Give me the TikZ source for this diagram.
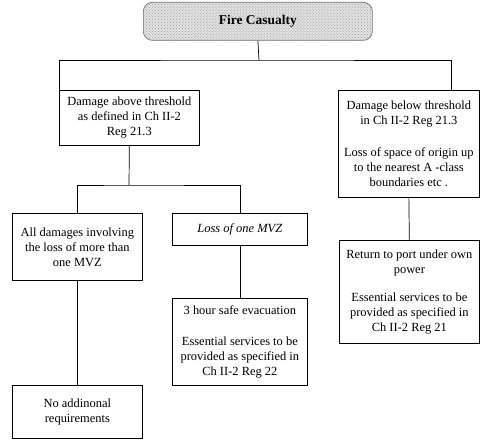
\documentclass[tikz,border=0pt]{standalone}
\usepackage{fontspec}
\setmainfont{Liberation Serif}
\usetikzlibrary{patterns}
\begin{document}
\begin{tikzpicture}[x=1bp, y=-1bp,
  box/.style={draw=black, line width=0.7bp, align=center, inner sep=0pt,
              anchor=north west, font=\fontsize{12.5}{15}\selectfont},
  topbox/.style={box, rounded corners=9bp, draw=black!55,
                 preaction={fill=gray!22}, pattern=crosshatch dots, pattern color=gray!80,
                 font=\fontsize{13.5}{16}\selectfont\bfseries},
  link/.style={draw=black, line width=0.7bp}]
\useasboundingbox (0,0) rectangle (489,447);

% root
\node[topbox, minimum width=229bp, minimum height=38bp] (fire) at (143,2) {Fire Casualty};

% first level
\node[box, minimum width=140bp, minimum height=55bp] (l1) at (59,90)
  {Damage above threshold\\as defined in Ch II-2\\Reg 21.3};
\node[box, minimum width=141bp, minimum height=107bp] (r1) at (338,90)
  {Damage below threshold\\in Ch II-2 Reg 21.3\\[17bp]Loss of space of origin up\\to the nearest A -class\\boundaries etc .};

% second level
\node[box, minimum width=130bp, minimum height=67bp] (l2a) at (12,213)
  {All damages involving\\the loss of more than\\one MVZ};
\node[box, minimum width=135bp, minimum height=32bp] (l2b) at (172,213)
  {\itshape Loss of one MVZ};
\node[box, minimum width=140bp, minimum height=103bp] (r2) at (339,240)
  {Return to port under own\\power\\[13bp]Essential services to be\\provided as specified in\\Ch II-2 Reg 21};

% third level
\node[box, minimum width=130bp, minimum height=53bp] (l3a) at (12,385)
  {No addinonal\\requirements};
\node[box, minimum width=135bp, minimum height=87bp] (l3b) at (172,298)
  {3 hour safe evacuation\\[16bp]Essential services to be\\provided as specified in\\Ch II-2 Reg 22};

% connectors
\coordinate (bus1) at (259,60);
\draw[link] (fire.south) -- (bus1);
\draw[link] (l1.north west) |- (bus1) -| (r1.north -| 451,0);

\coordinate (bus2) at (129,185);
\draw[link] (l1.south) -- (bus2);
\draw[link] (l2a.north) |- (bus2) -| (l2b.north);

\draw[link] (l2a.south) -- (l3a.north);
\draw[link] (l2b.south) -- (l3b.north);
\draw[link] (r1.south) -- (r2.north);
\end{tikzpicture}
\end{document}
